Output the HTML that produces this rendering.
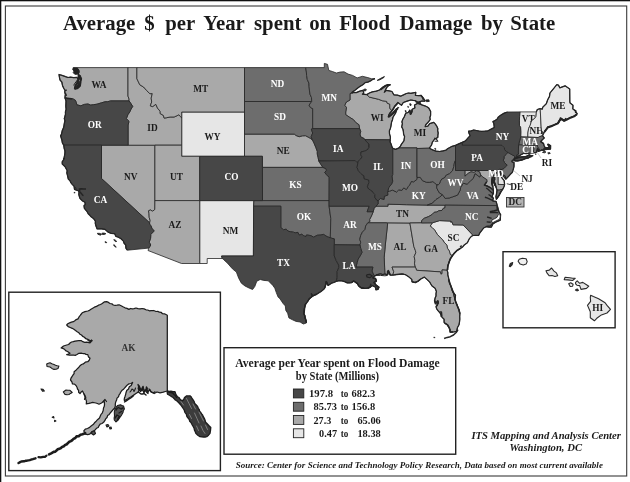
<!DOCTYPE html>
<html lang="en"><head><meta charset="utf-8"><title>Average $ per Year spent on Flood Damage by State</title>
<style>
html,body{margin:0;padding:0;background:#fff;}
body{width:630px;height:482px;overflow:hidden;}
svg{display:block;}
svg text{font-family:"Liberation Serif","Times New Roman",serif;}
</style></head><body>
<svg width="630" height="482" viewBox="0 0 630 482">
<rect x="0" y="0" width="630" height="482" fill="#fff"/>
<rect x="0" y="0" width="630" height="1.3" fill="#111"/>
<rect x="0" y="0" width="1.3" height="482" fill="#111"/>
<rect x="5.4" y="6" width="621.3" height="470" fill="none" stroke="#3a3a3a" stroke-width="1.1"/>
<g stroke="#242424" stroke-width="0.8" stroke-linejoin="round">
<path d="M181.7,117.7 L181.7,145.2 L181.7,156.3 L199.7,156.3 L244.5,156.3 L244.5,134.1 L244.5,112.0 L181.7,112.0Z" fill="#e6e6e6"/>
<path d="M199.7,200.6 L199.7,263.5 L207.2,263.5 L207.2,258.5 L222.3,258.5 L221.5,256.0 L253.4,256.0 L253.6,206.2 L253.9,200.6Z" fill="#e6e6e6"/>
<path d="M498.0,170.5 L499.7,169.2 L501.5,169.5 L499.9,171.8 L501.0,175.1 L501.9,177.9 L504.2,180.7 L504.6,184.6 L498.0,184.4Z" fill="#e6e6e6"/>
<path d="M473.2,235.5 L463.2,225.0 L453.0,224.8 L451.9,221.7 L450.8,222.2 L450.8,221.1 L439.6,220.6 L432.3,222.8 L430.2,226.1 L432.4,227.8 L434.6,230.0 L437.3,234.4 L440.5,237.8 L442.7,239.8 L444.1,242.2 L446.8,245.0 L447.5,248.3 L449.4,251.1 L450.2,254.4 L452.3,255.7 L454.4,253.3 L456.6,251.1 L458.6,249.6 L460.7,248.3 L462.7,246.9 L464.2,245.0 L467.4,242.7 L469.2,238.9 L471.4,236.3Z" fill="#e6e6e6"/>
<path d="M519.9,111.9 L519.6,116.4 L519.4,120.8 L519.4,125.3 L520.6,127.5 L520.8,131.9 L520.7,136.9 L527.8,137.1 L527.9,133.0 L528.6,128.6 L530.2,125.3 L531.5,120.8 L534.7,118.4 L536.0,116.4 L536.4,111.9Z" fill="#e6e6e6"/>
<path d="M527.8,137.1 L527.9,133.0 L528.6,128.6 L530.2,125.3 L531.5,120.8 L534.7,118.4 L536.0,116.4 L536.4,111.9 L537.3,109.5 L540.2,108.6 L541.2,127.8 L541.4,130.3 L543.6,133.4 L542.5,135.6 L539.1,136.9 L538.2,137.5Z" fill="#e6e6e6"/>
<path d="M543.6,133.4 L541.4,130.3 L541.2,127.8 L540.2,108.6 L542.3,109.2 L542.7,107.3 L546.3,103.7 L547.7,99.8 L549.5,96.4 L549.9,93.1 L556.8,84.7 L558.4,85.0 L559.8,87.8 L565.1,85.8 L569.7,89.0 L569.8,101.5 L570.1,103.1 L573.0,105.3 L572.8,108.9 L574.3,109.9 L576.8,113.1 L577.3,114.0 L574.1,116.2 L570.5,117.5 L566.9,119.2 L564.3,120.3 L560.7,118.1 L559.3,120.8 L558.0,123.0 L554.4,124.7 L551.2,126.2 L547.7,126.9 L546.8,129.1 L545.0,130.8Z" fill="#e6e6e6"/>
<path d="M76.7,67.6 L76.5,68.7 L78.6,70.2 L79.0,72.1 L78.0,74.1 L79.9,75.7 L80.4,77.8 L81.5,78.9 L80.1,81.5 L80.4,83.7 L79.7,86.5 L78.1,87.8 L75.4,88.9 L75.0,87.6 L77.1,86.5 L78.3,84.8 L78.0,82.0 L78.6,79.5 L76.8,77.4 L73.6,77.6 L70.5,77.2 L68.0,77.5 L65.6,76.7 L62.0,75.4 L59.0,74.5 L59.5,77.6 L60.0,80.0 L61.8,82.0 L62.6,85.9 L64.0,88.7 L65.1,90.6 L64.7,92.0 L65.4,94.2 L64.9,97.8 L67.8,98.7 L71.0,98.4 L73.2,99.0 L75.4,100.3 L76.3,102.5 L76.8,104.8 L80.8,105.8 L84.4,104.4 L88.0,104.0 L90.7,105.1 L93.4,104.7 L97.0,104.2 L101.5,102.8 L105.0,101.8 L107.7,101.7 L110.6,100.9 L129.1,100.9 L129.1,99.0 L128.0,96.1 L128.0,67.6Z" fill="#a9a9a9"/>
<path d="M149.6,222.8 L101.5,178.5 L101.5,145.2 L128.1,145.2 L154.9,145.2 L154.9,200.6 L154.8,209.5 L152.6,211.2 L150.3,210.0 L148.5,210.8 L149.0,213.4 L149.2,217.3 L150.2,220.6Z" fill="#a9a9a9"/>
<path d="M128.0,67.6 L128.0,96.1 L129.1,99.0 L129.1,100.9 L130.6,103.1 L132.7,106.4 L131.0,109.2 L129.7,112.0 L127.9,114.7 L126.4,118.6 L127.9,120.3 L129.0,121.4 L128.6,123.0 L128.1,125.0 L128.1,145.2 L154.9,145.2 L181.7,145.2 L181.7,117.7 L180.2,116.4 L178.8,114.7 L177.9,115.3 L174.1,117.0 L170.1,117.0 L166.2,117.8 L164.2,118.1 L163.3,115.3 L160.2,113.6 L160.2,111.4 L157.5,108.1 L155.8,104.3 L152.6,106.6 L150.3,105.8 L151.7,102.0 L151.2,98.1 L152.3,93.6 L149.9,93.7 L146.7,90.6 L143.6,87.0 L139.8,84.8 L136.9,78.7 L136.9,67.6Z" fill="#a9a9a9"/>
<path d="M136.9,67.6 L136.9,78.7 L139.8,84.8 L143.6,87.0 L146.7,90.6 L149.9,93.7 L152.3,93.6 L151.2,98.1 L151.7,102.0 L150.3,105.8 L152.6,106.6 L155.8,104.3 L157.5,108.1 L160.2,111.4 L160.2,113.6 L163.3,115.3 L164.2,118.1 L166.2,117.8 L170.1,117.0 L174.1,117.0 L177.9,115.3 L178.8,114.7 L180.2,116.4 L181.7,117.7 L181.7,112.0 L244.5,112.0 L244.5,101.5 L244.5,67.6Z" fill="#a9a9a9"/>
<path d="M154.9,145.2 L181.7,145.2 L181.7,156.3 L199.7,156.3 L199.7,200.6 L154.9,200.6Z" fill="#a9a9a9"/>
<path d="M148.8,248.1 L150.8,245.0 L149.2,242.2 L150.6,238.3 L150.8,234.4 L153.5,231.7 L154.1,230.6 L152.1,228.9 L151.0,225.9 L149.6,224.1 L149.6,222.8 L150.2,220.6 L149.2,217.3 L149.0,213.4 L148.5,210.8 L150.3,210.0 L152.6,211.2 L154.8,209.5 L154.9,200.6 L199.7,200.6 L199.7,263.5 L181.5,263.5 L148.0,250.5Z" fill="#a9a9a9"/>
<path d="M244.5,134.1 L294.3,134.1 L296.1,135.5 L299.2,136.7 L302.4,135.8 L305.5,135.7 L308.2,137.1 L310.4,138.3 L312.4,139.8 L314.0,143.0 L315.8,147.4 L317.3,151.3 L317.3,154.1 L318.1,157.4 L318.8,161.0 L320.7,164.1 L322.9,167.4 L262.4,167.4 L262.4,156.3 L244.5,156.3Z" fill="#a9a9a9"/>
<path d="M384.9,274.1 L384.6,267.1 L384.2,257.2 L385.3,245.0 L387.6,223.9 L386.7,222.8 L409.9,223.0 L413.8,246.4 L415.4,250.5 L415.8,252.7 L414.2,256.6 L414.9,260.5 L414.5,263.8 L415.4,267.1 L392.0,267.1 L393.7,271.6 L392.9,275.1 L390.4,275.2 L389.4,273.2 L388.5,270.5 L387.4,271.6 L387.6,274.7Z" fill="#a9a9a9"/>
<path d="M375.9,206.2 L374.1,208.4 L373.2,211.7 L371.4,216.1 L369.6,219.5 L369.9,221.4 L367.8,222.8 L386.7,222.8 L409.9,223.0 L421.5,222.9 L421.7,220.5 L424.2,218.3 L428.8,216.5 L432.4,214.3 L434.2,212.3 L436.9,212.0 L438.7,210.8 L442.0,210.4 L443.2,208.4 L445.0,207.8 L445.1,205.2 L427.2,205.1 L406.4,204.7 L387.8,204.2 L388.0,206.2Z" fill="#a9a9a9"/>
<path d="M351.7,93.1 L350.0,93.6 L350.0,100.0 L346.3,102.0 L344.7,105.3 L346.5,107.5 L345.7,112.0 L345.7,114.7 L349.9,117.5 L353.5,119.7 L355.7,122.5 L358.9,124.7 L359.6,128.6 L360.7,131.4 L360.0,134.1 L360.7,136.9 L364.2,138.6 L364.8,139.6 L390.3,139.8 L390.4,136.9 L389.5,133.8 L389.4,130.8 L390.4,128.4 L391.0,125.8 L391.6,121.9 L392.5,119.7 L392.9,117.5 L394.2,115.2 L395.6,113.1 L396.4,110.8 L397.4,108.6 L395.9,111.0 L393.8,112.9 L390.7,115.5 L388.3,117.0 L388.9,114.7 L390.2,112.7 L391.9,110.9 L389.8,108.1 L389.8,104.2 L387.1,103.1 L386.7,101.4 L382.2,100.7 L378.6,99.3 L369.4,97.1 L366.8,94.6 L362.4,94.2 L363.8,93.1 L362.9,90.4 L359.8,91.2 L356.2,92.6 L353.9,92.3Z" fill="#a9a9a9"/>
<path d="M366.8,94.6 L369.4,97.1 L378.6,99.3 L382.2,100.7 L386.7,101.4 L387.1,103.1 L389.8,104.2 L389.8,108.1 L391.9,110.9 L393.8,108.1 L394.9,105.9 L396.5,104.2 L397.9,102.5 L400.1,104.2 L401.5,105.3 L403.3,102.5 L406.4,101.4 L408.6,100.7 L410.9,100.0 L413.1,100.4 L415.4,100.7 L417.9,102.3 L421.6,101.1 L425.2,101.2 L423.4,98.1 L421.2,95.3 L419.0,95.7 L415.4,95.3 L415.8,92.3 L413.3,92.8 L410.9,93.3 L408.6,93.0 L406.4,93.5 L403.5,94.9 L400.6,96.2 L397.4,95.1 L393.8,94.8 L392.0,91.5 L389.4,90.9 L386.2,90.4 L384.4,92.2 L385.5,89.9 L386.7,87.6 L388.2,85.9 L390.3,84.8 L388.0,85.2 L385.8,85.4 L382.2,87.6 L379.5,90.0 L376.3,91.2 L372.3,91.8 L369.4,93.0Z M399.0,147.9 L400.4,146.1 L401.5,144.1 L403.9,140.8 L404.6,136.7 L403.6,134.2 L403.4,131.6 L402.9,129.2 L401.7,126.9 L402.4,123.6 L401.9,121.9 L402.8,119.3 L404.2,117.0 L405.8,113.1 L408.2,112.5 L409.8,110.0 L410.4,114.2 L411.3,113.6 L412.0,111.5 L412.2,109.2 L414.9,107.9 L414.5,105.1 L417.6,103.3 L420.1,104.2 L422.5,105.1 L424.8,105.8 L426.9,106.8 L428.8,108.1 L430.6,111.4 L430.6,115.3 L429.9,117.5 L430.2,119.7 L427.9,122.5 L425.7,124.7 L425.2,126.6 L427.9,126.2 L429.7,123.6 L433.8,122.3 L435.4,124.2 L436.9,126.4 L437.8,128.5 L437.7,130.8 L438.2,133.0 L437.9,135.2 L437.8,137.5 L434.6,139.1 L432.4,142.1 L431.5,145.2 L429.3,148.2 L417.0,148.5 L417.0,147.9Z" fill="#a9a9a9"/>
<path d="M464.9,170.5 L498.0,170.5 L498.0,184.4 L504.6,184.6 L504.2,186.2 L502.8,189.2 L499.2,190.1 L497.0,190.1 L496.1,187.3 L494.7,184.6 L493.4,181.8 L494.3,179.0 L494.7,175.1 L496.1,172.4 L495.2,174.0 L492.5,175.7 L492.0,178.5 L491.6,181.8 L492.5,185.7 L493.2,188.4 L493.4,190.1 L490.7,187.9 L487.1,186.0 L484.4,185.1 L486.9,181.8 L486.8,179.6 L484.9,178.5 L482.6,176.8 L480.6,174.9 L479.5,171.8 L476.5,170.7 L474.1,172.4 L471.0,171.8 L468.3,173.3 L464.9,176.2Z" fill="#a9a9a9"/>
<path d="M409.9,223.0 L421.5,222.9 L432.3,222.8 L430.2,226.1 L432.4,227.8 L434.6,230.0 L437.3,234.4 L440.5,237.8 L442.7,239.8 L444.1,242.2 L446.8,245.0 L447.5,248.3 L449.4,251.1 L450.2,254.4 L452.3,255.7 L450.2,258.8 L449.0,262.1 L447.7,266.0 L447.2,270.3 L442.1,269.9 L442.1,273.6 L440.9,274.2 L440.5,271.9 L416.6,270.3 L415.4,267.1 L414.5,263.8 L414.9,260.5 L414.2,256.6 L415.8,252.7 L415.4,250.5 L413.8,246.4Z" fill="#a9a9a9"/>
<path d="M392.9,275.1 L393.7,271.6 L392.0,267.1 L415.4,267.1 L416.6,270.3 L440.5,271.9 L440.9,274.2 L442.1,273.6 L442.1,269.9 L447.2,270.3 L447.8,272.6 L447.8,274.9 L448.6,277.9 L449.0,281.0 L449.6,283.5 L450.8,285.8 L451.7,288.2 L452.3,290.8 L453.5,293.2 L455.5,295.4 L455.0,298.7 L455.7,301.9 L457.1,304.8 L457.8,307.1 L458.9,309.2 L459.4,311.5 L459.9,313.7 L459.7,316.4 L459.8,319.2 L459.5,322.0 L459.0,324.8 L457.5,327.5 L456.6,331.4 L453.5,332.0 L450.3,332.2 L449.9,329.2 L448.6,326.9 L447.2,324.8 L444.1,322.5 L444.1,319.2 L441.8,317.0 L440.5,313.7 L438.2,310.9 L436.7,308.9 L436.0,306.5 L437.3,305.4 L438.2,301.5 L435.5,303.1 L434.6,300.4 L435.1,298.1 L436.0,295.9 L436.0,293.7 L436.4,291.5 L435.1,288.2 L432.0,286.0 L430.8,284.0 L429.7,282.1 L427.5,279.9 L424.3,277.1 L421.2,278.8 L418.1,281.0 L415.4,282.6 L412.0,281.8 L411.8,279.5 L409.1,277.1 L405.5,274.7 L401.9,274.0 L399.0,274.5 L396.1,274.6Z" fill="#a9a9a9"/>
<path d="M244.5,101.5 L244.5,67.6 L305.7,67.6 L306.4,72.1 L306.6,75.4 L307.3,79.5 L308.9,83.1 L309.1,86.5 L309.5,90.9 L310.0,94.2 L311.5,97.6 L311.7,101.5Z" fill="#6d6d6d"/>
<path d="M244.5,101.5 L311.7,101.5 L309.1,105.1 L310.4,107.5 L312.7,108.6 L312.7,128.6 L311.3,129.1 L312.7,133.0 L311.1,136.9 L312.4,139.8 L310.4,138.3 L308.2,137.1 L305.5,135.7 L302.4,135.8 L299.2,136.7 L296.1,135.5 L294.3,134.1 L244.5,134.1 L244.5,112.0Z" fill="#6d6d6d"/>
<path d="M262.4,167.4 L322.9,167.4 L325.7,168.5 L326.6,170.2 L324.8,172.4 L326.3,174.6 L329.2,177.2 L329.1,200.6 L262.5,200.6Z" fill="#6d6d6d"/>
<path d="M262.5,200.6 L329.1,200.6 L329.1,206.2 L330.8,218.5 L330.3,237.9 L327.0,236.6 L323.4,234.4 L320.7,235.0 L317.2,235.3 L313.6,237.2 L311.3,235.8 L309.1,235.3 L306.4,235.0 L305.9,236.6 L303.7,235.9 L301.9,234.1 L299.2,235.2 L297.9,232.4 L295.2,232.8 L293.4,232.2 L290.2,231.7 L288.0,231.1 L286.2,229.2 L283.5,229.7 L280.8,227.7 L280.8,206.2 L253.6,206.2 L253.9,200.6Z" fill="#6d6d6d"/>
<path d="M311.7,101.5 L311.5,97.6 L310.0,94.2 L309.5,90.9 L309.1,86.5 L308.9,83.1 L307.3,79.5 L306.6,75.4 L306.4,72.1 L305.7,67.6 L324.3,67.6 L324.3,63.4 L327.5,64.3 L328.8,70.4 L332.4,71.5 L336.4,73.0 L340.0,72.1 L344.1,71.8 L348.1,74.1 L352.6,75.4 L357.1,77.9 L362.4,76.3 L367.8,77.6 L371.4,78.7 L375.0,78.7 L372.6,79.5 L370.5,80.9 L367.9,82.1 L365.1,82.6 L363.5,84.2 L361.7,85.4 L359.8,86.5 L357.5,88.3 L355.3,90.0 L352.1,92.2 L351.7,93.1 L350.0,93.6 L350.0,100.0 L346.3,102.0 L344.7,105.3 L346.5,107.5 L345.7,112.0 L345.7,114.7 L349.9,117.5 L353.5,119.7 L355.7,122.5 L358.9,124.7 L359.6,128.6 L312.7,128.6 L312.7,108.6 L310.4,107.5 L309.1,105.1Z" fill="#6d6d6d"/>
<path d="M329.1,206.2 L369.2,206.2 L367.1,211.7 L373.2,211.7 L371.4,216.1 L369.6,219.5 L369.9,221.4 L367.8,222.8 L365.6,226.1 L365.1,229.4 L362.4,232.2 L360.7,235.5 L359.8,239.4 L360.7,242.2 L360.0,245.0 L334.3,244.7 L334.3,238.9 L330.3,237.9 L330.8,218.5Z" fill="#6d6d6d"/>
<path d="M367.8,222.8 L365.6,226.1 L365.1,229.4 L362.4,232.2 L360.7,235.5 L359.8,239.4 L360.7,242.2 L360.0,245.0 L360.7,248.3 L362.0,252.2 L360.7,254.9 L358.0,259.4 L357.1,262.7 L355.9,267.1 L372.9,267.1 L372.0,271.0 L373.2,273.8 L374.6,276.2 L376.3,274.9 L380.4,273.8 L382.6,274.5 L384.9,274.1 L384.6,267.1 L384.2,257.2 L385.3,245.0 L387.6,223.9 L386.7,222.8Z" fill="#6d6d6d"/>
<path d="M378.1,200.9 L378.1,204.0 L375.9,206.2 L388.0,206.2 L387.8,204.2 L406.4,204.7 L427.2,205.1 L432.0,203.4 L434.6,201.2 L436.0,199.5 L439.6,197.3 L442.5,194.6 L439.6,193.1 L437.8,190.1 L436.7,187.9 L436.9,184.9 L434.6,182.9 L432.9,181.6 L429.7,182.3 L426.6,182.3 L422.5,180.7 L420.3,177.4 L417.0,177.4 L416.7,179.6 L413.6,181.8 L411.3,181.5 L409.5,185.1 L408.2,186.6 L406.4,189.5 L403.7,187.9 L401.9,190.4 L398.8,189.8 L396.5,192.0 L392.5,190.1 L389.4,191.2 L387.6,191.8 L387.8,195.1 L384.4,196.2 L384.0,199.5 L380.4,198.4Z" fill="#6d6d6d"/>
<path d="M387.6,191.8 L388.9,187.3 L391.6,184.0 L392.7,181.2 L392.0,176.2 L392.7,174.6 L392.7,148.3 L395.6,149.3 L399.0,147.9 L417.0,147.9 L417.0,148.5 L417.0,177.4 L416.7,179.6 L413.6,181.8 L411.3,181.5 L409.5,185.1 L408.2,186.6 L406.4,189.5 L403.7,187.9 L401.9,190.4 L398.8,189.8 L396.5,192.0 L392.5,190.1 L389.4,191.2Z" fill="#6d6d6d"/>
<path d="M417.0,148.5 L417.0,177.4 L420.3,177.4 L422.5,180.7 L426.6,182.3 L429.7,182.3 L432.9,181.6 L434.6,182.9 L436.9,184.9 L438.2,184.9 L440.0,183.1 L440.5,181.2 L441.8,179.0 L444.5,177.9 L446.3,175.1 L449.4,173.8 L452.6,170.7 L453.8,166.6 L454.4,162.9 L455.5,160.3 L455.5,145.4 L452.1,146.3 L449.4,147.7 L447.5,148.7 L445.9,150.2 L443.2,150.8 L439.6,151.5 L436.0,151.1 L433.3,150.2 L431.3,149.2 L429.3,148.2Z" fill="#6d6d6d"/>
<path d="M501.5,169.5 L503.9,168.5 L505.5,166.6 L507.1,165.2 L504.6,162.7 L503.3,160.2 L504.2,158.0 L503.9,156.5 L506.0,154.6 L507.7,152.3 L514.9,156.3 L513.8,159.6 L512.2,160.5 L511.8,161.8 L514.0,162.4 L514.0,166.3 L513.1,170.2 L512.2,172.5 L510.4,174.3 L508.2,176.8 L505.8,179.2 L505.1,176.2 L502.4,174.6 L500.4,172.4 L500.1,170.9Z" fill="#6d6d6d"/>
<path d="M445.1,205.2 L497.3,205.6 L496.1,201.4 L493.8,201.2 L492.5,200.6 L493.4,198.4 L492.0,196.2 L493.4,193.4 L493.4,190.1 L490.7,187.9 L487.1,186.0 L484.4,185.1 L486.9,181.8 L486.8,179.6 L484.9,178.5 L482.6,176.8 L480.6,174.9 L479.7,177.0 L475.0,173.5 L473.2,178.5 L470.3,181.0 L467.1,184.2 L463.3,183.2 L460.7,187.3 L460.2,190.1 L457.5,195.1 L452.5,196.9 L449.2,198.0 L445.1,198.4 L442.5,194.6 L439.6,197.3 L436.0,199.5 L434.6,201.2 L432.0,203.4 L427.2,205.1Z M502.8,189.2 L501.0,191.8 L499.2,195.1 L497.4,197.9 L496.4,199.3 L495.9,196.7 L496.5,194.0 L497.0,190.1 L499.2,190.1Z" fill="#6d6d6d"/>
<path d="M455.5,160.3 L454.4,162.9 L453.8,166.6 L452.6,170.7 L449.4,173.8 L446.3,175.1 L444.5,177.9 L441.8,179.0 L440.5,181.2 L440.0,183.1 L438.2,184.9 L436.9,184.9 L436.7,187.9 L437.8,190.1 L439.6,193.1 L442.5,194.6 L445.1,198.4 L449.2,198.0 L452.5,196.9 L457.5,195.1 L460.2,190.1 L460.7,187.3 L463.3,183.2 L467.1,184.2 L470.3,181.0 L473.2,178.5 L475.0,173.5 L479.7,177.0 L480.6,174.9 L479.5,171.8 L476.5,170.7 L474.1,172.4 L471.0,171.8 L468.3,173.3 L464.9,176.2 L464.9,170.5 L455.5,170.5Z" fill="#6d6d6d"/>
<path d="M445.1,205.2 L497.3,205.6 L498.3,209.5 L499.1,212.2 L500.6,214.5 L500.4,217.4 L500.3,220.2 L498.2,221.1 L496.1,222.0 L492.9,223.9 L491.3,227.2 L488.8,227.1 L486.2,226.7 L484.1,227.7 L482.6,229.4 L479.9,232.8 L478.6,235.5 L475.9,235.4 L473.2,235.5 L463.2,225.0 L453.0,224.8 L451.9,221.7 L450.8,222.2 L450.8,221.1 L439.6,220.6 L432.3,222.8 L421.5,222.9 L421.7,220.5 L424.2,218.3 L428.8,216.5 L432.4,214.3 L434.2,212.3 L436.9,212.0 L438.7,210.8 L442.0,210.4 L443.2,208.4 L445.0,207.8Z" fill="#6d6d6d"/>
<path d="M518.6,144.7 L518.3,153.0 L518.7,154.0 L516.4,155.2 L517.1,156.4 L519.3,155.9 L521.2,154.6 L523.9,153.3 L526.1,153.6 L528.4,153.3 L531.1,153.0 L533.2,152.8 L533.8,149.6 L533.8,145.0Z" fill="#6d6d6d"/>
<path d="M533.8,145.0 L533.8,149.6 L533.2,152.8 L536.4,152.3 L537.3,149.6 L538.2,151.3 L539.9,150.8 L539.1,148.9 L537.5,146.3 L537.5,145.0Z" fill="#6d6d6d"/>
<path d="M520.7,136.9 L518.6,144.7 L533.8,145.0 L537.5,145.0 L537.5,146.3 L539.1,148.9 L539.9,150.8 L541.4,150.2 L544.1,150.2 L545.0,149.6 L547.2,149.3 L550.3,148.9 L550.3,145.8 L548.1,144.4 L549.2,146.3 L549.9,147.7 L547.7,147.6 L545.4,147.8 L544.1,145.8 L543.6,143.6 L540.9,141.9 L541.8,140.2 L544.3,138.0 L542.5,135.6 L539.1,136.9 L538.2,137.5 L527.8,137.1Z" fill="#6d6d6d"/>
<path d="M64.9,97.8 L66.0,100.9 L65.9,103.7 L65.8,106.4 L66.1,109.2 L65.4,112.0 L65.5,114.2 L64.9,116.4 L64.3,118.6 L64.9,120.9 L64.4,123.0 L64.0,125.3 L63.6,127.5 L62.2,130.8 L61.5,134.1 L60.6,135.9 L61.8,139.7 L62.4,143.0 L63.7,145.2 L101.5,145.2 L128.1,145.2 L128.1,125.0 L128.6,123.0 L129.0,121.4 L127.9,120.3 L126.4,118.6 L127.9,114.7 L129.7,112.0 L131.0,109.2 L132.7,106.4 L130.6,103.1 L129.1,100.9 L110.6,100.9 L107.7,101.7 L105.0,101.8 L101.5,102.8 L97.0,104.2 L93.4,104.7 L90.7,105.1 L88.0,104.0 L84.4,104.4 L80.8,105.8 L76.8,104.8 L76.3,102.5 L75.4,100.3 L73.2,99.0 L71.0,98.4 L67.8,98.7Z" fill="#474747"/>
<path d="M63.7,145.2 L64.2,148.5 L64.9,150.7 L64.9,153.0 L64.6,155.2 L64.2,157.4 L63.5,159.8 L62.2,161.8 L62.3,164.1 L65.1,166.8 L67.2,170.7 L66.8,172.9 L67.4,175.1 L68.3,179.0 L70.0,180.7 L71.0,182.9 L72.4,184.6 L74.1,186.2 L74.5,189.5 L78.1,190.7 L79.0,191.8 L78.8,194.5 L79.9,198.4 L82.6,201.0 L84.9,202.3 L85.3,204.5 L84.0,205.6 L84.4,208.4 L87.1,211.7 L88.2,213.7 L89.8,215.3 L91.4,217.1 L93.4,218.4 L95.4,221.1 L95.3,223.4 L95.8,225.6 L97.1,228.9 L101.5,228.9 L105.0,229.4 L108.2,232.2 L111.3,233.5 L114.7,233.7 L115.8,236.3 L117.8,237.0 L120.7,238.5 L123.4,241.1 L124.1,243.3 L125.7,245.0 L125.9,248.1 L127.3,250.2 L148.8,248.1 L150.8,245.0 L149.2,242.2 L150.6,238.3 L150.8,234.4 L153.5,231.7 L154.1,230.6 L152.1,228.9 L151.0,225.9 L149.6,224.1 L149.6,222.8 L101.5,178.5 L101.5,145.2Z" fill="#474747"/>
<path d="M199.7,200.6 L199.7,156.3 L244.5,156.3 L262.4,156.3 L262.4,167.4 L262.5,200.6 L253.9,200.6Z" fill="#474747"/>
<path d="M222.3,258.5 L221.5,256.0 L253.4,256.0 L253.6,206.2 L280.8,206.2 L280.8,227.7 L283.5,229.7 L286.2,229.2 L288.0,231.1 L290.2,231.7 L293.4,232.2 L295.2,232.8 L297.9,232.4 L299.2,235.2 L301.9,234.1 L303.7,235.9 L305.9,236.6 L306.4,235.0 L309.1,235.3 L311.3,235.8 L313.6,237.2 L317.2,235.3 L320.7,235.0 L323.4,234.4 L327.0,236.6 L330.3,237.9 L334.3,238.9 L334.3,244.7 L334.3,256.0 L336.2,260.5 L338.7,265.1 L338.7,267.7 L337.2,271.6 L337.2,274.9 L337.2,277.7 L336.1,281.5 L333.8,282.5 L331.5,283.2 L328.2,285.4 L326.1,281.5 L325.7,284.9 L324.3,288.7 L322.6,290.3 L320.7,291.7 L318.7,292.9 L316.7,294.3 L312.7,295.9 L309.5,298.7 L307.3,302.0 L305.0,304.8 L304.7,307.0 L304.3,309.2 L304.0,311.5 L303.7,313.7 L304.9,315.7 L305.0,318.1 L306.1,320.4 L306.4,323.0 L303.3,324.0 L300.1,322.0 L296.1,321.4 L292.5,319.8 L288.9,317.9 L287.6,313.1 L285.8,310.4 L285.3,305.9 L283.1,303.5 L279.9,298.7 L278.1,297.1 L276.3,292.6 L274.8,288.2 L272.8,285.4 L268.3,280.8 L263.8,280.4 L260.2,279.5 L256.8,281.2 L254.8,286.5 L252.6,289.5 L249.4,288.2 L245.0,286.0 L241.4,283.2 L238.7,278.2 L236.4,272.1 L232.4,268.8 L227.5,263.2 L223.4,259.4Z" fill="#474747"/>
<path d="M312.7,128.6 L359.6,128.6 L360.7,131.4 L360.0,134.1 L360.7,136.9 L364.2,138.6 L364.8,139.6 L366.8,141.9 L369.0,144.1 L369.0,147.4 L367.4,149.9 L364.7,151.1 L361.1,151.9 L360.7,154.6 L362.0,156.9 L360.7,159.1 L358.0,161.3 L357.8,163.2 L355.0,160.6 L318.8,161.0 L318.1,157.4 L317.3,154.1 L317.3,151.3 L315.8,147.4 L314.0,143.0 L312.4,139.8 L311.1,136.9 L312.7,133.0 L311.3,129.1Z" fill="#474747"/>
<path d="M357.8,163.2 L355.0,160.6 L318.8,161.0 L320.7,164.1 L322.9,167.4 L325.7,168.5 L326.6,170.2 L324.8,172.4 L326.3,174.6 L329.2,177.2 L329.1,200.6 L329.1,206.2 L369.2,206.2 L367.1,211.7 L373.2,211.7 L374.1,208.4 L375.9,206.2 L378.1,204.0 L378.1,200.9 L376.8,200.1 L374.8,197.5 L374.8,194.5 L371.9,190.9 L368.7,189.0 L367.4,186.8 L368.9,182.6 L368.7,179.9 L364.4,179.0 L363.8,175.7 L360.7,173.5 L358.1,170.2 L357.1,167.4Z" fill="#474747"/>
<path d="M334.3,244.7 L360.0,245.0 L360.7,248.3 L362.0,252.2 L360.7,254.9 L358.0,259.4 L357.1,262.7 L355.9,267.1 L372.9,267.1 L372.0,271.0 L373.2,273.8 L374.6,276.2 L372.8,277.7 L375.5,278.4 L376.3,281.0 L374.1,282.4 L375.9,284.9 L379.0,287.1 L378.1,289.3 L375.9,289.8 L375.5,287.1 L372.3,285.6 L370.5,287.1 L368.3,288.2 L364.7,288.4 L361.6,288.2 L358.9,286.2 L357.5,283.8 L355.7,282.4 L353.9,281.0 L351.7,282.6 L349.5,282.9 L347.2,282.9 L344.6,281.6 L341.8,280.8 L338.9,280.7 L336.1,281.5 L337.2,277.7 L337.2,274.9 L337.2,271.6 L338.7,267.7 L338.7,265.1 L336.2,260.5 L334.3,256.0Z" fill="#474747"/>
<path d="M364.8,139.6 L366.8,141.9 L369.0,144.1 L369.0,147.4 L367.4,149.9 L364.7,151.1 L361.1,151.9 L360.7,154.6 L362.0,156.9 L360.7,159.1 L358.0,161.3 L357.8,163.2 L357.1,167.4 L358.1,170.2 L360.7,173.5 L363.8,175.7 L364.4,179.0 L368.7,179.9 L368.9,182.6 L367.4,186.8 L368.7,189.0 L371.9,190.9 L374.8,194.5 L374.8,197.5 L376.8,200.1 L378.1,200.9 L380.4,198.4 L384.0,199.5 L384.4,196.2 L387.8,195.1 L387.6,191.8 L388.9,187.3 L391.6,184.0 L392.7,181.2 L392.0,176.2 L392.7,174.6 L392.7,148.3 L392.0,146.9 L391.1,144.1 L390.1,141.9 L390.3,139.8Z" fill="#474747"/>
<path d="M455.5,145.4 L455.5,160.3 L455.5,170.5 L464.9,170.5 L498.0,170.5 L499.7,169.2 L501.5,169.5 L503.9,168.5 L505.5,166.6 L507.1,165.2 L504.6,162.7 L503.3,160.2 L504.2,158.0 L503.9,156.5 L506.0,154.6 L507.7,152.3 L506.4,151.5 L504.6,149.6 L504.4,147.7 L501.9,145.2 L462.4,145.2 L462.4,142.2 L459.3,143.6Z" fill="#474747"/>
<path d="M462.4,142.2 L464.7,141.3 L466.5,139.7 L468.2,137.6 L470.1,135.8 L468.9,133.0 L468.6,131.2 L471.2,130.9 L473.7,130.0 L476.4,130.5 L479.0,131.0 L481.7,131.4 L484.9,131.2 L488.0,130.8 L491.6,128.9 L494.3,127.5 L493.8,123.6 L492.9,121.6 L495.0,120.5 L497.0,119.2 L498.4,116.9 L500.6,115.3 L504.2,113.1 L507.6,112.0 L519.9,111.9 L519.6,116.4 L519.4,120.8 L519.4,125.3 L520.6,127.5 L520.8,131.9 L520.7,136.9 L518.6,144.7 L518.3,153.0 L518.7,154.0 L516.4,155.2 L517.1,156.4 L515.8,158.0 L514.5,158.7 L513.8,159.6 L514.9,156.3 L507.7,152.3 L506.4,151.5 L504.6,149.6 L504.4,147.7 L501.9,145.2 L462.4,145.2Z M513.8,160.7 L517.6,161.0 L520.3,160.3 L523.0,159.6 L525.5,158.3 L528.4,158.0 L530.4,156.4 L532.9,155.7 L530.2,156.3 L529.3,154.9 L526.1,156.5 L522.1,156.9 L518.5,157.2 L516.3,158.2 L514.5,159.1Z" fill="#474747"/>
</g>
<g stroke="#242424" stroke-width="1.25" fill="none" stroke-linejoin="round">
<path d="M76.7,67.6 L76.5,68.7 L78.6,70.2 L79.0,72.1 L78.0,74.1 L79.9,75.7 L80.4,77.8 L81.5,78.9 L80.1,81.5 L80.4,83.7 L79.7,86.5 L78.1,87.8 L75.4,88.9 L75.0,87.6 L77.1,86.5 L78.3,84.8 L78.0,82.0 L78.6,79.5 L76.8,77.4 L73.6,77.6 L70.5,77.2 L68.0,77.5 L65.6,76.7 L62.0,75.4 L59.0,74.5 L59.5,77.6 L60.0,80.0 L61.8,82.0 L62.6,85.9 L64.0,88.7 L65.1,90.6 L64.7,92.0 L65.4,94.2 L64.9,97.8"/>
<path d="M64.9,97.8 L66.0,100.9 L65.9,103.7 L65.8,106.4 L66.1,109.2 L65.4,112.0 L65.5,114.2 L64.9,116.4 L64.3,118.6 L64.9,120.9 L64.4,123.0 L64.0,125.3 L63.6,127.5 L62.2,130.8 L61.5,134.1 L60.6,135.9 L61.8,139.7 L62.4,143.0 L63.7,145.2"/>
<path d="M63.7,145.2 L64.2,148.5 L64.9,150.7 L64.9,153.0 L64.6,155.2 L64.2,157.4 L63.5,159.8 L62.2,161.8 L62.3,164.1 L65.1,166.8 L67.2,170.7 L66.8,172.9 L67.4,175.1 L68.3,179.0 L70.0,180.7 L71.0,182.9 L72.4,184.6 L74.1,186.2 L74.5,189.5 L78.1,190.7 L79.0,191.8 L78.8,194.5 L79.9,198.4 L82.6,201.0 L84.9,202.3 L85.3,204.5 L84.0,205.6 L84.4,208.4 L87.1,211.7 L88.2,213.7 L89.8,215.3 L91.4,217.1 L93.4,218.4 L95.4,221.1 L95.3,223.4 L95.8,225.6 L97.1,228.9 L101.5,228.9 L105.0,229.4 L108.2,232.2 L111.3,233.5 L114.7,233.7 L115.8,236.3 L117.8,237.0 L120.7,238.5 L123.4,241.1 L124.1,243.3 L125.7,245.0 L125.9,248.1 L127.3,250.2"/>
<path d="M336.1,281.5 L333.8,282.5 L331.5,283.2 L328.2,285.4 L326.1,281.5 L325.7,284.9 L324.3,288.7 L322.6,290.3 L320.7,291.7 L318.7,292.9 L316.7,294.3 L312.7,295.9 L309.5,298.7 L307.3,302.0 L305.0,304.8 L304.7,307.0 L304.3,309.2 L304.0,311.5 L303.7,313.7 L304.9,315.7 L305.0,318.1 L306.1,320.4 L306.4,323.0"/>
<path d="M375.0,78.7 L372.6,79.5 L370.5,80.9 L367.9,82.1 L365.1,82.6 L363.5,84.2 L361.7,85.4 L359.8,86.5 L357.5,88.3 L355.3,90.0 L352.1,92.2 L351.7,93.1"/>
<path d="M374.6,276.2 L372.8,277.7 L375.5,278.4 L376.3,281.0 L374.1,282.4 L375.9,284.9 L379.0,287.1 L378.1,289.3 L375.9,289.8 L375.5,287.1 L372.3,285.6 L370.5,287.1 L368.3,288.2 L364.7,288.4 L361.6,288.2 L358.9,286.2 L357.5,283.8 L355.7,282.4 L353.9,281.0 L351.7,282.6 L349.5,282.9 L347.2,282.9 L344.6,281.6 L341.8,280.8 L338.9,280.7 L336.1,281.5"/>
<path d="M374.6,276.2 L376.3,274.9 L380.4,273.8 L382.6,274.5 L384.9,274.1"/>
<path d="M384.9,274.1 L387.6,274.7 L387.4,271.6 L388.5,270.5 L389.4,273.2 L390.4,275.2 L392.9,275.1"/>
<path d="M392.7,148.3 L392.0,146.9 L391.1,144.1 L390.1,141.9 L390.3,139.8"/>
<path d="M351.7,93.1 L353.9,92.3 L356.2,92.6 L359.8,91.2 L362.9,90.4 L363.8,93.1 L362.4,94.2 L366.8,94.6"/>
<path d="M391.9,110.9 L390.2,112.7 L388.9,114.7 L388.3,117.0 L390.7,115.5 L393.8,112.9 L395.9,111.0 L397.4,108.6 L396.4,110.8 L395.6,113.1 L394.2,115.2 L392.9,117.5 L392.5,119.7 L391.6,121.9 L391.0,125.8 L390.4,128.4 L389.4,130.8 L389.5,133.8 L390.4,136.9 L390.3,139.8"/>
<path d="M392.7,148.3 L395.6,149.3 L399.0,147.9"/>
<path d="M429.3,148.2 L431.3,149.2 L433.3,150.2 L436.0,151.1 L439.6,151.5 L443.2,150.8 L445.9,150.2 L447.5,148.7 L449.4,147.7 L452.1,146.3 L455.5,145.4"/>
<path d="M391.9,110.9 L393.8,108.1 L394.9,105.9 L396.5,104.2 L397.9,102.5 L400.1,104.2 L401.5,105.3 L403.3,102.5 L406.4,101.4 L408.6,100.7 L410.9,100.0 L413.1,100.4 L415.4,100.7 L417.9,102.3 L421.6,101.1 L425.2,101.2"/>
<path d="M425.2,101.2 L423.4,98.1 L421.2,95.3 L419.0,95.7 L415.4,95.3 L415.8,92.3 L413.3,92.8 L410.9,93.3 L408.6,93.0 L406.4,93.5 L403.5,94.9 L400.6,96.2 L397.4,95.1 L393.8,94.8 L392.0,91.5 L389.4,90.9 L386.2,90.4 L384.4,92.2 L385.5,89.9 L386.7,87.6 L388.2,85.9 L390.3,84.8 L388.0,85.2 L385.8,85.4 L382.2,87.6 L379.5,90.0 L376.3,91.2 L372.3,91.8 L369.4,93.0 L366.8,94.6"/>
<path d="M399.0,147.9 L400.4,146.1 L401.5,144.1 L403.9,140.8 L404.6,136.7 L403.6,134.2 L403.4,131.6 L402.9,129.2 L401.7,126.9 L402.4,123.6 L401.9,121.9 L402.8,119.3 L404.2,117.0 L405.8,113.1 L408.2,112.5 L409.8,110.0 L410.4,114.2 L411.3,113.6 L412.0,111.5 L412.2,109.2 L414.9,107.9 L414.5,105.1 L417.6,103.3 L420.1,104.2 L422.5,105.1 L424.8,105.8 L426.9,106.8 L428.8,108.1 L430.6,111.4 L430.6,115.3 L429.9,117.5 L430.2,119.7 L427.9,122.5 L425.7,124.7 L425.2,126.6 L427.9,126.2 L429.7,123.6 L433.8,122.3 L435.4,124.2 L436.9,126.4 L437.8,128.5 L437.7,130.8 L438.2,133.0 L437.9,135.2 L437.8,137.5 L434.6,139.1 L432.4,142.1 L431.5,145.2 L429.3,148.2"/>
<path d="M455.5,145.4 L459.3,143.6 L462.4,142.2"/>
<path d="M462.4,142.2 L464.7,141.3 L466.5,139.7 L468.2,137.6 L470.1,135.8 L468.9,133.0 L468.6,131.2 L471.2,130.9 L473.7,130.0 L476.4,130.5 L479.0,131.0 L481.7,131.4 L484.9,131.2 L488.0,130.8 L491.6,128.9 L494.3,127.5 L493.8,123.6 L492.9,121.6 L495.0,120.5 L497.0,119.2 L498.4,116.9 L500.6,115.3 L504.2,113.1 L507.6,112.0"/>
<path d="M517.1,156.4 L515.8,158.0 L514.5,158.7 L513.8,159.6"/>
<path d="M513.8,160.7 L517.6,161.0 L520.3,160.3 L523.0,159.6 L525.5,158.3 L528.4,158.0 L530.4,156.4 L532.9,155.7 L530.2,156.3 L529.3,154.9 L526.1,156.5 L522.1,156.9 L518.5,157.2 L516.3,158.2 L514.5,159.1 L513.8,160.7"/>
<path d="M513.8,159.6 L512.2,160.5 L511.8,161.8"/>
<path d="M511.8,161.8 L514.0,162.4 L514.0,166.3 L513.1,170.2 L512.2,172.5 L510.4,174.3 L508.2,176.8 L505.8,179.2 L505.1,176.2 L502.4,174.6 L500.4,172.4 L500.1,170.9 L501.5,169.5"/>
<path d="M501.5,169.5 L499.9,171.8 L501.0,175.1 L501.9,177.9 L504.2,180.7 L504.6,184.6"/>
<path d="M502.8,189.2 L504.2,186.2 L504.6,184.6"/>
<path d="M496.1,172.4 L494.7,175.1 L494.3,179.0 L493.4,181.8 L494.7,184.6 L496.1,187.3 L497.0,190.1"/>
<path d="M493.4,190.1 L493.2,188.4 L492.5,185.7 L491.6,181.8 L492.0,178.5 L492.5,175.7 L495.2,174.0 L496.1,172.4"/>
<path d="M493.4,190.1 L493.4,193.4 L492.0,196.2 L493.4,198.4 L492.5,200.6 L493.8,201.2 L496.1,201.4 L497.3,205.6"/>
<path d="M502.8,189.2 L501.0,191.8 L499.2,195.1 L497.4,197.9 L496.4,199.3 L495.9,196.7 L496.5,194.0 L497.0,190.1"/>
<path d="M497.3,205.6 L498.3,209.5 L499.1,212.2 L500.6,214.5 L500.4,217.4 L500.3,220.2 L498.2,221.1 L496.1,222.0 L492.9,223.9 L491.3,227.2 L488.8,227.1 L486.2,226.7 L484.1,227.7 L482.6,229.4 L479.9,232.8 L478.6,235.5 L475.9,235.4 L473.2,235.5"/>
<path d="M452.3,255.7 L454.4,253.3 L456.6,251.1 L458.6,249.6 L460.7,248.3 L462.7,246.9 L464.2,245.0 L467.4,242.7 L469.2,238.9 L471.4,236.3 L473.2,235.5"/>
<path d="M447.2,270.3 L447.7,266.0 L449.0,262.1 L450.2,258.8 L452.3,255.7"/>
<path d="M392.9,275.1 L396.1,274.6 L399.0,274.5 L401.9,274.0 L405.5,274.7 L409.1,277.1 L411.8,279.5 L412.0,281.8 L415.4,282.6 L418.1,281.0 L421.2,278.8 L424.3,277.1 L427.5,279.9 L429.7,282.1 L430.8,284.0 L432.0,286.0 L435.1,288.2 L436.4,291.5 L436.0,293.7 L436.0,295.9 L435.1,298.1 L434.6,300.4 L435.5,303.1 L438.2,301.5 L437.3,305.4 L436.0,306.5 L436.7,308.9 L438.2,310.9 L440.5,313.7 L441.8,317.0 L444.1,319.2 L444.1,322.5 L447.2,324.8 L448.6,326.9 L449.9,329.2 L450.3,332.2 L453.5,332.0 L456.6,331.4 L457.5,327.5 L459.0,324.8 L459.5,322.0 L459.8,319.2 L459.7,316.4 L459.9,313.7 L459.4,311.5 L458.9,309.2 L457.8,307.1 L457.1,304.8 L455.7,301.9 L455.0,298.7 L455.5,295.4 L453.5,293.2 L452.3,290.8 L451.7,288.2 L450.8,285.8 L449.6,283.5 L449.0,281.0 L448.6,277.9 L447.8,274.9 L447.8,272.6 L447.2,270.3"/>
<path d="M517.1,156.4 L519.3,155.9 L521.2,154.6 L523.9,153.3 L526.1,153.6 L528.4,153.3 L531.1,153.0 L533.2,152.8"/>
<path d="M533.2,152.8 L536.4,152.3 L537.3,149.6 L538.2,151.3 L539.9,150.8"/>
<path d="M539.9,150.8 L541.4,150.2 L544.1,150.2 L545.0,149.6 L547.2,149.3 L550.3,148.9 L550.3,145.8 L548.1,144.4 L549.2,146.3 L549.9,147.7 L547.7,147.6 L545.4,147.8 L544.1,145.8 L543.6,143.6 L540.9,141.9 L541.8,140.2 L544.3,138.0 L542.5,135.6"/>
<path d="M542.5,135.6 L543.6,133.4"/>
<path d="M577.3,114.0 L574.1,116.2 L570.5,117.5 L566.9,119.2 L564.3,120.3 L560.7,118.1 L559.3,120.8 L558.0,123.0 L554.4,124.7 L551.2,126.2 L547.7,126.9 L546.8,129.1 L545.0,130.8 L543.6,133.4"/>
<path d="M540.2,108.6 L542.3,109.2 L542.7,107.3 L546.3,103.7 L547.7,99.8 L549.5,96.4 L549.9,93.1 L556.8,84.7 L558.4,85.0 L559.8,87.8 L565.1,85.8 L569.7,89.0 L569.8,101.5 L570.1,103.1 L573.0,105.3 L572.8,108.9 L574.3,109.9 L576.8,113.1 L577.3,114.0"/>
<path d="M536.4,111.9 L537.3,109.5 L540.2,108.6"/>
</g>
<g stroke="#242424" stroke-width="0.9" fill="#fff" stroke-linejoin="round">
<path d="M499.5,213.4 L500.3,216.1 L499.7,219.2 L496.1,220.9 L492.9,222.6 L491.6,221.9 L492.0,219.8 L494.7,218.7 L497.0,217.3 L498.3,214.5Z"/>
</g>
<g stroke="#242424" stroke-width="0.9" stroke-linejoin="round">
<path d="M73.2,67.6 L75.9,67.6 L78.1,68.7 L79.0,71.0 L78.1,73.2 L76.3,74.5 L74.5,74.1 L73.2,72.6 L74.1,71.0 L72.7,69.8Z" fill="#222"/>
<path d="M97.4,233.3 L99.7,233.4 L101.5,234.2 L100.6,235.2 L97.9,234.3Z" fill="#222"/>
<path d="M101.9,233.2 L104.1,233.1 L105.9,233.7 L104.1,234.5 L102.3,234.4Z" fill="#222"/>
<path d="M113.8,239.6 L115.4,240.2 L116.7,241.4 L115.8,241.7 L114.3,240.6Z" fill="#222"/>
<path d="M113.8,244.6 L114.9,245.5 L116.2,247.2 L115.4,247.1 L113.8,245.3Z" fill="#222"/>
<path d="M105.0,241.7 L106.4,242.1 L106.7,242.7 L105.3,242.6Z" fill="#222"/>
<path d="M74.1,192.3 L75.0,192.6 L74.5,193.2Z" fill="#222"/>
<path d="M542.5,152.4 L544.5,151.1 L545.9,152.1 L544.5,152.8Z" fill="#222"/>
<path d="M547.7,153.0 L549.5,152.5 L550.3,153.3 L548.6,153.9Z" fill="#222"/>
<path d="M535.4,154.1 L536.0,153.7 L536.0,154.6Z" fill="#222"/>
<path d="M377.2,80.4 L380.4,78.5 L384.4,76.5 L384.0,77.4 L379.9,79.8Z" fill="#222"/>
<path d="M363.3,89.8 L365.1,88.9 L366.5,89.8 L365.1,91.1 L363.8,90.7Z" fill="#222"/>
<path d="M409.8,103.7 L411.1,104.0 L410.9,105.6 L410.0,105.3Z" fill="#222"/>
<path d="M405.1,110.6 L406.2,110.9 L405.7,112.2Z" fill="#222"/>
<path d="M407.7,106.4 L408.6,106.8 L408.2,107.5Z" fill="#222"/>
<path d="M419.0,102.9 L420.9,103.1 L420.6,103.9Z" fill="#222"/>
<path d="M425.7,100.0 L428.8,99.8 L429.3,101.4 L426.6,101.7Z" fill="#222"/>
<path d="M397.6,107.3 L398.8,107.5 L398.3,108.3Z" fill="#222"/>
<path d="M433.8,337.2 L434.9,337.4 L434.4,338.1Z" fill="#222"/>
</g>
<g stroke="#242424" stroke-width="1.1" fill="none" stroke-linejoin="round">
<path d="M79.5,75.4 L80.8,78.2 L80.4,82.0 L79.9,85.4 L77.2,88.1 L75.0,88.5 L75.4,85.9 L77.2,83.1 L78.1,79.8 L78.6,77.1 L79.5,75.4" stroke-width="2.2"/>
<path d="M77.2,87.0 L78.6,84.8 L79.0,82.0" stroke-width="1.4"/>
<path d="M78.1,73.7 L78.6,76.5 L79.9,79.3" stroke-width="1.6"/>
<path d="M77.7,79.8 L75.0,83.1 L73.6,85.4" stroke-width="1.0"/>
<path d="M78.8,191.5 L79.7,190.4 L79.3,188.9 L81.3,188.7 L83.5,189.0 L86.0,189.0" stroke-width="1.5"/>
<path d="M79.9,191.8 L81.3,193.4 L82.6,195.1 L83.5,195.6" stroke-width="1.5"/>
<path d="M75.0,189.5 L76.3,188.4 L75.0,187.3" stroke-width="1.0"/>
<path d="M380.4,89.8 L384.0,87.0 L387.6,84.8 L390.3,84.8" stroke-width="1.6"/>
<path d="M388.5,117.0 L390.7,115.1 L393.4,112.5 L396.5,109.2 L397.9,108.4" stroke-width="2.0"/>
<path d="M389.4,114.2 L392.0,110.9 L394.7,106.4 L397.4,103.7" stroke-width="1.4"/>
<path d="M415.4,101.4 L417.9,102.8 L420.7,102.0" stroke-width="1.4"/>
<path d="M423.4,100.3 L422.5,97.6 L420.7,95.3" stroke-width="1.3"/>
<path d="M410.0,110.3 L410.4,114.2 L411.3,113.6 L412.0,109.7" stroke-width="1.3"/>
<path d="M544.5,131.9 L547.7,127.5 L551.2,126.2 L554.4,124.9 L558.0,123.3 L559.3,120.8 L561.1,119.2 L564.3,120.8 L566.9,119.7 L570.5,117.7 L574.1,116.4 L577.0,114.2" stroke-width="2.0"/>
<path d="M558.9,122.5 L560.2,119.2 L560.7,117.5" stroke-width="1.6"/>
<path d="M563.4,121.4 L565.1,119.7 L566.0,118.1" stroke-width="1.6"/>
<path d="M575.5,113.1 L575.9,110.9 L574.1,110.0" stroke-width="1.4"/>
<path d="M544.3,148.0 L547.2,148.8 L550.2,148.8 L550.3,145.8 L548.1,144.5 L549.0,146.1 L549.7,147.4" stroke-width="2.0"/>
<path d="M541.4,150.2 L543.6,149.9 L544.3,148.0" stroke-width="1.5"/>
<path d="M537.2,151.3 L537.5,148.5 L538.2,150.8 L539.1,149.1" stroke-width="1.5"/>
<path d="M541.8,140.2 L540.8,141.7 L543.2,142.8" stroke-width="1.4"/>
<path d="M516.3,158.0 L521.2,157.1 L526.6,156.5 L529.3,155.0 L532.0,156.1" stroke-width="1.4"/>
<path d="M514.9,160.7 L520.3,160.4 L525.7,158.7 L532.0,156.3" stroke-width="1.4"/>
<path d="M500.1,171.6 L501.0,174.6 L503.3,176.2 L505.5,179.0" stroke-width="1.2"/>
<path d="M496.1,172.4 L494.3,175.7 L492.5,179.0 L492.0,183.5 L492.9,186.8" stroke-width="1.8"/>
<path d="M495.2,174.0 L494.3,178.5 L493.8,181.8 L495.2,185.7" stroke-width="1.6"/>
<path d="M493.4,190.1 L490.7,187.9 L487.1,186.0 L484.4,185.1 L486.7,181.8" stroke-width="1.5"/>
<path d="M493.4,194.0 L490.7,191.8 L488.0,189.3 L486.2,187.9" stroke-width="1.3"/>
<path d="M492.5,197.9 L490.3,195.6 L488.5,194.5" stroke-width="1.3"/>
<path d="M493.4,200.9 L490.3,199.3 L487.1,197.9 L484.9,197.3" stroke-width="1.4"/>
<path d="M496.1,187.3 L495.2,183.5 L493.8,181.2 L495.2,178.5" stroke-width="1.4"/>
<path d="M501.0,191.2 L499.2,195.1 L497.0,198.4" stroke-width="1.3"/>
<path d="M497.0,206.2 L497.4,210.0 L494.3,210.8 L489.8,211.7" stroke-width="1.5"/>
<path d="M489.8,212.5 L494.3,212.3 L497.9,212.8" stroke-width="1.4"/>
<path d="M491.6,218.4 L487.1,217.0" stroke-width="1.4"/>
<path d="M490.7,222.2 L486.7,221.9" stroke-width="1.4"/>
<path d="M492.9,223.3 L490.3,225.9 L486.2,226.3" stroke-width="1.3"/>
<path d="M447.7,269.9 L448.1,265.5 L449.4,261.6 L450.8,258.3 L452.6,255.5 L454.4,252.9 L456.6,250.7 L460.7,248.1" stroke-width="1.4"/>
<path d="M460.2,247.2 L461.6,245.5" stroke-width="1.4"/>
<path d="M448.6,279.3 L451.2,287.1 L453.5,292.6 L455.3,295.4 L454.8,299.3 L456.8,304.8 L458.9,309.8 L459.9,313.7" stroke-width="1.5"/>
<path d="M453.5,292.1 L453.9,295.9 L454.8,298.2" stroke-width="1.2"/>
<path d="M434.6,300.4 L435.5,303.7 L437.8,300.9 L438.2,303.1 L436.4,305.9" stroke-width="1.7"/>
<path d="M439.6,312.0 L441.4,312.0 L441.8,315.9 L440.5,316.4" stroke-width="1.5"/>
<path d="M444.5,323.1 L447.7,324.8 L449.4,328.1 L450.3,332.0 L453.0,332.0" stroke-width="1.5"/>
<path d="M458.0,329.7 L456.2,332.5 L453.5,335.0 L450.3,336.7 L447.2,337.4 L444.1,338.5" stroke-width="1.5"/>
<path d="M411.8,281.5 L414.5,282.3 L418.1,281.3 L420.7,279.1" stroke-width="1.3"/>
<path d="M394.7,274.7 L399.2,274.0 L403.7,274.1" stroke-width="1.2"/>
<path d="M387.6,274.9 L388.0,271.0 L389.4,273.2 L390.3,275.1" stroke-width="1.6"/>
<path d="M375.9,275.4 L380.4,275.4 L384.9,275.8 L387.6,275.4" stroke-width="1.0"/>
<path d="M372.8,277.7 L375.5,278.8 L376.3,281.0 L374.1,282.6 L375.9,285.1 L378.6,287.6 L377.7,289.1 L375.7,289.3" stroke-width="1.6"/>
<path d="M366.5,274.9 L369.6,274.3 L372.3,276.0 L369.6,277.7 L366.9,276.9 L366.5,274.9" stroke-width="1.2"/>
<path d="M371.0,283.8 L370.1,286.9 L367.8,288.2" stroke-width="1.4"/>
<path d="M364.2,288.2 L360.7,287.6 L358.4,285.4 L357.1,283.2 L353.5,281.0 L351.7,282.4" stroke-width="1.4"/>
<path d="M327.9,285.4 L326.6,281.8 L325.7,284.3 L324.8,288.2" stroke-width="1.4"/>
<path d="M316.7,293.7 L313.1,295.9 L311.3,293.7 L312.2,296.5 L309.1,298.7 L307.3,302.0" stroke-width="1.3"/>
<path d="M305.9,303.1 L304.6,308.1 L304.1,313.7 L305.5,318.7 L306.1,322.0" stroke-width="1.4"/>
<path d="M64.7,90.4 L66.9,90.1" stroke-width="1.4"/>
<path d="M65.3,93.1 L66.5,95.9" stroke-width="1.4"/>
<path d="M65.6,98.1 L69.2,98.4 L71.9,99.0" stroke-width="1.5"/>
<path d="M63.3,158.0 L64.7,159.1" stroke-width="1.3"/>
<path d="M434.2,138.0 L436.4,139.1 L437.8,141.3 L434.6,141.3" stroke-width="1.1"/>
<path d="M434.6,148.3 L436.0,149.6" stroke-width="1.3"/>
</g>
<defs>
<clipPath id="clipVT"><path d="M519.9,111.9 L519.6,116.4 L519.4,120.8 L519.4,125.3 L520.6,127.5 L520.8,131.9 L520.7,136.9 L527.8,137.1 L527.9,133.0 L528.6,128.6 L530.2,125.3 L531.5,120.8 L534.7,118.4 L536.0,116.4 L536.4,111.9Z"/></clipPath>
<clipPath id="clipNH"><path d="M527.8,137.1 L527.9,133.0 L528.6,128.6 L530.2,125.3 L531.5,120.8 L534.7,118.4 L536.0,116.4 L536.4,111.9 L537.3,109.5 L540.2,108.6 L541.2,127.8 L541.4,130.3 L543.6,133.4 L542.5,135.6 L539.1,136.9 L538.2,137.5Z"/></clipPath>
</defs>
<g font-size="20.8" font-weight="bold" fill="#1a1a1a" text-anchor="middle">
<text x="99.1" y="30.2">Average</text>
<text x="149.4" y="30.2">$</text>
<text x="180.2" y="30.2">per</text>
<text x="224.0" y="30.2">Year</text>
<text x="277.7" y="30.2">spent</text>
<text x="320.2" y="30.2">on</text>
<text x="364.6" y="30.2">Flood</text>
<text x="435.9" y="30.2">Damage</text>
<text x="491.9" y="30.2">by</text>
<text x="532.7" y="30.2">State</text>
</g>
<rect x="8.8" y="292.2" width="211.6" height="178.4" fill="#fff" stroke="#222" stroke-width="1.4"/>
<g stroke="#1c1c1c" stroke-linejoin="round">
<path d="M106.7,301.7 L108.5,302.4 L110.0,303.5 L111.9,303.8 L113.3,305.0 L115.1,305.3 L117.0,305.2 L119.1,304.8 L121.1,305.7 L123.0,306.8 L125.0,307.8 L127.0,308.4 L128.9,309.4 L130.5,308.5 L132.3,308.9 L134.0,308.6 L136.0,308.0 L138.0,308.6 L140.0,308.8 L142.1,308.5 L144.1,308.9 L146.0,309.8 L147.7,310.0 L149.3,310.8 L151.1,310.6 L153.7,310.5 L156.0,311.5 L157.8,311.4 L159.4,312.2 L161.1,312.3 L162.5,313.7 L164.5,313.8 L167.3,315.2 L167.3,391.0 L165.3,391.5 L163.3,392.2 L160.0,392.8 L157.0,392.0 L154.2,393.5 L152.5,392.6 L151.0,391.5 L149.5,390.0 L148.1,391.5 L148.0,393.5 L146.4,392.1 L146.0,390.0 L144.6,391.2 L144.0,393.0 L143.0,390.8 L142.5,388.5 L141.9,390.3 L140.5,391.5 L139.4,389.1 L139.5,386.5 L138.0,384.5 L138.6,386.5 L138.2,388.6 L139.0,390.6 L138.0,392.2 L136.3,393.2 L133.8,395.0 L131.2,396.8 L129.3,397.8 L127.5,399.0 L125.9,399.7 L124.6,400.8 L124.2,400.0 L124.4,398.2 L125.0,396.5 L125.6,394.6 L126.0,392.7 L126.7,390.5 L128.5,389.0 L129.3,386.8 L131.2,385.4 L132.6,382.4 L131.0,383.5 L129.0,383.8 L127.1,385.2 L125.5,387.0 L124.3,388.3 L123.2,389.6 L121.8,390.6 L120.8,392.0 L120.0,393.6 L119.0,395.0 L118.5,396.8 L117.0,398.1 L116.6,400.0 L115.7,401.9 L115.3,404.0 L115.3,406.2 L114.5,408.2 L112.9,409.8 L111.5,411.5 L110.3,412.9 L109.2,414.4 L107.6,415.6 L107.0,417.5 L105.6,418.9 L104.8,420.7 L103.6,422.3 L102.0,423.5 L100.1,424.1 L99.0,425.8 L98.2,427.5 L96.5,428.3 L95.3,429.7 L94.0,430.9 L92.3,431.5 L91.0,432.8 L89.6,434.2 L87.6,434.7 L85.5,434.2 L84.6,432.6 L83.8,430.9 L85.3,429.1 L87.5,428.5 L89.6,427.4 L91.4,425.8 L93.2,424.6 L94.5,422.8 L96.2,421.2 L97.8,419.4 L99.5,418.0 L100.3,416.0 L101.0,414.4 L102.2,413.1 L103.2,410.5 L103.5,408.0 L104.3,406.3 L104.5,404.5 L104.4,402.7 L104.1,401.0 L101.5,403.0 L99.0,404.2 L97.4,403.5 L95.8,403.0 L92.7,402.3 L90.9,402.9 L89.0,403.4 L86.3,403.8 L86.5,401.3 L85.6,398.9 L85.7,397.1 L84.5,395.6 L84.0,394.0 L82.5,391.0 L81.1,392.1 L80.0,393.5 L78.6,392.3 L78.6,390.4 L77.5,389.0 L77.0,387.2 L76.0,385.5 L74.5,384.1 L72.5,384.0 L71.9,381.8 L70.5,380.0 L71.0,378.2 L72.0,376.6 L73.0,375.0 L74.1,373.7 L74.1,371.7 L75.6,370.6 L77.2,368.9 L78.9,367.2 L80.1,365.7 L81.5,364.5 L83.3,363.9 L85.3,362.2 L87.8,361.7 L89.2,360.2 L90.0,358.3 L88.4,356.7 L87.8,354.6 L86.0,354.4 L84.5,353.5 L82.8,353.5 L81.1,353.2 L78.9,353.3 L77.0,354.5 L75.2,355.4 L73.3,355.0 L71.4,355.2 L69.5,355.2 L66.7,354.6 L68.4,354.0 L70.0,353.2 L67.5,351.5 L65.6,350.6 L64.4,349.2 L62.8,348.4 L61.1,347.9 L63.5,346.0 L66.7,345.0 L68.6,344.5 L70.0,343.0 L71.5,342.0 L73.3,341.7 L75.1,341.1 L77.0,340.8 L79.0,340.5 L81.1,340.6 L82.8,341.7 L84.7,342.3 L86.7,342.1 L90.0,342.8 L92.2,340.6 L89.9,340.5 L87.8,339.4 L85.8,338.7 L84.4,337.2 L82.7,336.4 L81.5,335.0 L79.9,334.2 L78.9,332.8 L77.2,331.7 L75.5,330.5 L73.9,329.3 L72.2,328.3 L70.2,327.5 L68.2,326.7 L66.7,325.0 L67.8,323.7 L69.6,322.9 L71.4,322.2 L73.3,321.7 L74.8,320.7 L76.2,319.6 L78.0,318.9 L78.9,317.2 L80.5,315.0 L82.2,312.8 L85.0,311.6 L87.8,311.0 L89.5,310.3 L91.0,309.2 L92.7,308.2 L94.4,307.2 L96.5,306.4 L98.5,305.2 L100.5,304.5 L102.2,303.4 L104.2,301.9Z" fill="#a9a9a9" stroke-width="1.25"/>
<path d="M115.0,409.0 L116.2,407.2 L117.5,405.5 L120.5,404.8 L122.0,405.5 L123.5,406.0 L124.4,409.0 L123.3,410.6 L123.0,412.5 L122.0,414.3 L121.0,416.0 L119.7,417.7 L118.5,419.5 L117.2,420.7 L116.0,422.0 L114.3,420.0 L114.1,418.0 L114.5,416.0 L114.4,414.0 L114.3,412.0Z" fill="#555" stroke-width="1.1"/>
<path d="M63.3,392.0 L64.6,391.0 L66.0,390.0 L68.0,390.3 L70.0,390.3 L72.2,392.5 L70.5,393.4 L69.0,394.5 L67.0,394.8 L65.0,394.4Z" fill="#a9a9a9" stroke-width="1.1"/>
<path d="M46.7,364.0 L48.3,363.2 L50.0,362.8 L51.9,363.8 L54.0,364.5 L55.6,365.2 L57.2,365.8 L58.9,366.0 L58.0,368.5 L56.1,369.3 L54.0,369.4 L51.9,368.4 L50.0,367.0 L47.0,366.5Z" fill="#a9a9a9" stroke-width="1.1"/>
<path d="M41.0,389.0 L43.0,389.3 L44.4,391.0 L42.5,391.2Z" fill="#555" stroke-width="1.1"/>
<path d="M52.2,417.3 L53.6,416.6 L54.0,418.0Z" fill="#555" stroke-width="1.1"/>
<path d="M54.6,420.2 L55.9,421.0 L54.6,421.6Z" fill="#555" stroke-width="1.1"/>
<path d="M106.0,425.0 L108.0,424.5 L109.0,426.0 L107.0,427.0Z" fill="#555" stroke-width="1.1"/>
<path d="M109.5,427.5 L111.0,427.0 L111.5,428.6 L110.0,429.0Z" fill="#555" stroke-width="1.1"/>
<path d="M92.0,431.5 L94.5,431.0 L95.5,433.5 L93.5,435.0 L91.5,433.5Z" fill="#555" stroke-width="1.1"/>
<path d="M167.3,391.0 L169.1,391.5 L171.0,391.2 L173.0,391.6 L175.0,391.7 L175.6,393.5 L176.3,395.2 L177.5,396.7 L178.9,397.5 L179.9,398.9 L181.0,400.1 L182.5,400.8 L183.8,399.3 L184.5,397.5 L186.7,395.8 L188.3,395.9 L190.0,395.8 L191.3,397.0 L192.0,398.5 L193.2,400.0 L194.2,401.7 L194.8,403.6 L196.3,405.0 L197.6,406.4 L198.3,408.3 L199.3,409.6 L199.6,411.3 L200.8,412.5 L201.7,413.9 L202.7,415.2 L203.3,416.7 L204.3,418.3 L205.0,420.0 L205.5,421.8 L206.7,423.3 L208.8,425.5 L210.8,427.5 L210.5,430.5 L210.0,433.3 L208.5,435.2 L206.7,436.7 L205.1,437.0 L203.5,437.0 L201.7,436.9 L200.0,436.7 L197.8,435.2 L195.8,433.3 L195.2,431.6 L194.4,430.0 L194.1,428.3 L193.3,426.7 L192.1,424.6 L191.0,422.5 L189.7,421.3 L189.3,419.7 L188.3,418.3 L186.9,416.5 L186.3,414.2 L184.9,412.3 L184.2,410.0 L182.5,407.5 L180.8,405.0 L178.8,402.8 L176.7,400.8 L175.3,400.0 L174.2,398.7 L173.1,397.5 L171.7,396.7 L169.5,395.3 L167.5,394.2 L167.2,392.6Z" fill="#3c3c3c" stroke-width="1.3"/>
</g>
<g stroke="#1c1c1c" fill="none" stroke-linejoin="round" stroke-linecap="round">
<path d="M85.2,433.2 L82.5,434.2 L80.5,434.8 L78.8,436.1 L76.6,436.4 L75.3,438.0 L73.5,438.9 L72.3,440.1 L70.9,441.1 L69.3,441.8 L68.0,442.9 L66.8,444.3 L65.1,444.9 L63.8,446.3 L62.0,446.9 L60.9,448.1 L59.4,448.7 L57.8,449.3 L56.5,450.5 L55.3,451.6 L53.7,451.9 L51.2,453.3 L49.0,454.4" stroke-width="2.6"/>
<path d="M46.5,455.7 L45.0,456.8 L43.2,456.9 L40.8,457.3 L38.5,457.2" stroke-width="2.2"/>
<path d="M35.5,458.3 L32.8,459.1 L31.3,459.5 L29.8,460.1 L27.0,460.7 L25.5,460.8 L24.0,461.3 L21.3,461.5 L19.6,462.4 L18.5,463.1" stroke-width="2.4"/>
<path d="M139.0,386.0 L140.0,388.0 L141.0,390.0 L142.1,388.3 L143.0,386.5 L143.3,388.2 L143.9,389.7 L145.0,391.0 L146.2,389.2 L146.5,387.0 L147.2,388.4 L147.0,390.2 L148.0,391.5" stroke-width="1.5"/>
<path d="M138.5,392.0 L139.7,393.0 L141.0,394.0 L142.5,394.0 L144.0,393.5 L146.0,395.0" stroke-width="1.5"/>
<path d="M149.0,389.0 L150.2,390.0 L150.6,391.7 L152.0,392.5 L153.6,392.7 L155.0,391.8" stroke-width="1.2"/>
<path d="M130.0,392.0 L131.2,390.6 L132.0,389.0 L133.4,389.9 L134.0,391.5 L134.9,389.8 L135.5,388.0" stroke-width="1.1"/>
<path d="M124.5,402.0 L126.3,400.9 L128.0,399.6 L129.5,398.6 L131.0,397.8 L132.4,396.8 L133.5,395.5" stroke-width="1.4"/>
<path d="M116.0,410.0 L117.0,408.5 L118.5,407.5 L121.0,409.0 L123.0,408.0" stroke-width="1.4"/>
<path d="M115.0,418.0 L116.0,416.5 L117.0,415.0 L119.5,416.5 L118.1,418.3 L117.5,420.5" stroke-width="1.4"/>
<path d="M119.0,413.0 L121.5,411.5" stroke-width="1.3"/>
<path d="M167.5,391.5 L169.2,392.2 L171.0,392.5 L172.8,393.0 L174.0,394.5 L175.5,395.8 L176.5,397.5" stroke-width="1.4"/>
<path d="M84.0,394.0 L85.0,395.3 L85.0,397.0 L84.5,399.5" stroke-width="1.2"/>
<path d="M103.0,402.0 L103.9,400.7 L105.0,399.5 L106.5,401.5" stroke-width="1.2"/>
<path d="M88.0,340.5 L90.5,341.8 L91.5,340.0" stroke-width="1.2"/>
</g>
<g stroke="#9a9a9a" fill="none" stroke-width="0.7" stroke-linecap="round">
<path d="M186.5,398.5 L189.0,403.5 L191.5,408.5"/>
<path d="M193.0,404.0 L195.5,409.0"/>
<path d="M194.5,413.0 L197.0,418.5 L199.0,423.0"/>
<path d="M199.0,412.0 L201.5,417.0 L203.5,421.0"/>
<path d="M201.0,426.0 L203.0,430.5 L205.0,433.5"/>
<path d="M196.5,426.0 L198.5,430.5"/>
<path d="M205.5,425.0 L207.5,429.5"/>
<path d="M181.0,401.5 L183.5,405.0"/>
<path d="M189.5,414.5 L191.5,418.5"/>
</g>
<rect x="503" y="251.7" width="112.1" height="76.1" fill="#fff" stroke="#222" stroke-width="1.4"/>
<g stroke="#2a2a2a" stroke-width="1.1" stroke-linejoin="round">
<path d="M509.3,266.3 L510.3,263.5 L512.7,262.5 L512.1,264.8 L510.3,266.7Z" fill="#333"/>
<path d="M518.1,261.2 L519.2,259.3 L522.4,258.2 L526.1,258.8 L527.2,261.6 L526.1,264.1 L523.3,265.0 L520.0,263.9Z" fill="#f0f0f0"/>
<path d="M546.0,270.7 L549.3,270.1 L551.6,268.0 L554.0,271.1 L556.4,272.9 L557.7,275.8 L554.9,276.5 L552.1,275.6 L549.3,275.8 L546.9,272.9Z" fill="#e6e6e6"/>
<path d="M564.2,279.6 L565.1,277.3 L569.8,277.7 L572.6,278.2 L575.2,278.4 L572.6,280.5 L567.9,279.9Z" fill="#dcdcdc"/>
<path d="M568.7,283.7 L570.7,282.8 L573.1,284.3 L572.6,286.2 L570.2,286.5Z" fill="#e6e6e6"/>
<path d="M575.6,282.4 L577.2,280.9 L579.7,283.3 L582.8,282.4 L586.5,284.7 L588.8,286.2 L586.5,288.4 L581.0,289.4 L579.7,285.6 L576.9,285.2 L575.6,283.9Z" fill="#e6e6e6"/>
<path d="M575.4,290.0 L577.2,289.0 L578.5,290.3 L576.9,290.9Z" fill="#333"/>
<path d="M590.6,295.2 L593.4,296.6 L598.6,298.8 L605.1,302.8 L607.0,305.4 L610.5,309.4 L607.0,313.0 L601.4,314.9 L596.8,318.3 L594.4,320.8 L590.3,317.7 L590.3,311.7 L587.5,305.4 L590.6,301.3 L590.3,297.5Z" fill="#e6e6e6"/>
</g>
<rect x="506.5" y="197.5" width="17.5" height="9.5" fill="#b4b4b4" stroke="#333" stroke-width="0.9"/>
<g stroke="#8c8c8c" stroke-width="0.5" fill="none">
<path d="M520,176 L513,170"/>
<path d="M511.5,184.9 L506.8,183.7" stroke="#333" stroke-width="0.9"/>
<path d="M541,158 L537,152"/>
</g>
<g font-size="9.3" font-weight="bold" text-anchor="middle">
<text x="99.0" y="87.6" fill="#1a1a1a">WA</text>
<text x="94.7" y="127.6" fill="#fff">OR</text>
<text x="152.5" y="131.1" fill="#1a1a1a">ID</text>
<text x="200.7" y="92.1" fill="#1a1a1a">MT</text>
<text x="212.5" y="139.7" fill="#1a1a1a">WY</text>
<text x="277.5" y="86.6" fill="#fff">ND</text>
<text x="280" y="119.7" fill="#fff">SD</text>
<text x="283.3" y="154.1" fill="#1a1a1a">NE</text>
<text x="130.7" y="179.8" fill="#1a1a1a">NV</text>
<text x="176.5" y="180.2" fill="#1a1a1a">UT</text>
<text x="231.5" y="180.2" fill="#fff">CO</text>
<text x="295.4" y="188.1" fill="#fff">KS</text>
<text x="100.4" y="203.1" fill="#fff">CA</text>
<text x="175.0" y="228.1" fill="#1a1a1a">AZ</text>
<text x="230.6" y="233.8" fill="#1a1a1a">NM</text>
<text x="304.1" y="220.4" fill="#fff">OK</text>
<text x="329.3" y="101.2" fill="#fff">MN</text>
<text x="377.2" y="121.1" fill="#1a1a1a">WI</text>
<text x="420" y="136.2" fill="#1a1a1a">MI</text>
<text x="338.2" y="152.1" fill="#fff">IA</text>
<text x="378.2" y="169.9" fill="#fff">IL</text>
<text x="406.0" y="169.0" fill="#fff">IN</text>
<text x="437.5" y="167.7" fill="#fff">OH</text>
<text x="477.0" y="161.1" fill="#fff">PA</text>
<text x="502.5" y="140.2" fill="#fff">NY</text>
<text x="558" y="108.6" fill="#1a1a1a">ME</text>
<text x="528.3" y="122.3" fill="#1a1a1a" clip-path="url(#clipVT)">VT</text>
<text x="536.6" y="134.4" fill="#1a1a1a" clip-path="url(#clipNH)">NH</text>
<text x="530.3" y="144.6" fill="#fff">MA</text>
<text x="528.8" y="153.1" fill="#fff">CT</text>
<text x="546.9" y="165.5" fill="#1a1a1a">RI</text>
<text x="527.1" y="181.8" fill="#1a1a1a">NJ</text>
<text x="516.7" y="190.2" fill="#1a1a1a">DE</text>
<text x="496.0" y="176.7" fill="#fff">MD</text>
<text x="455.5" y="186.3" fill="#fff">WV</text>
<text x="472.5" y="198.7" fill="#fff">VA</text>
<text x="418.8" y="199.0" fill="#fff">KY</text>
<text x="350" y="191.4" fill="#fff">MO</text>
<text x="402.5" y="216.6" fill="#1a1a1a">TN</text>
<text x="471.8" y="220.0" fill="#fff">NC</text>
<text x="350" y="228.1" fill="#fff">AR</text>
<text x="453.5" y="240.5" fill="#1a1a1a">SC</text>
<text x="283.5" y="266.2" fill="#fff">TX</text>
<text x="375" y="250.1" fill="#fff">MS</text>
<text x="400" y="249.7" fill="#1a1a1a">AL</text>
<text x="431.0" y="252.2" fill="#1a1a1a">GA</text>
<text x="349.0" y="268.5" fill="#fff">LA</text>
<text x="448.5" y="304.1" fill="#1a1a1a">FL</text>
<text x="128.6" y="351.4" fill="#333">AK</text>
<text x="597.8" y="310.9" fill="#1a1a1a">HI</text>
<text x="515.3" y="205.4" fill="#222">DC</text>
</g>
<rect x="224" y="347.7" width="231.7" height="106.5" fill="#fff" stroke="#222" stroke-width="1.4"/>
<g font-weight="bold" fill="#1a1a1a" font-size="11.6">
<text x="337.5" y="366.6" text-anchor="middle" textLength="204.4" lengthAdjust="spacingAndGlyphs">Average per Year spent on Flood Damage</text>
<text x="337.4" y="379.5" text-anchor="middle" textLength="83.2" lengthAdjust="spacingAndGlyphs">by State (Millions)</text>
</g>
<g font-weight="bold" fill="#1a1a1a" font-size="11">
<rect x="293.4" y="389.0" width="10.4" height="8.9" fill="#474747" stroke="#222" stroke-width="0.9"/>
<text x="309.0" y="397.1" textLength="24.0" lengthAdjust="spacingAndGlyphs">197.8</text>
<text x="340.7" y="397.1" textLength="7.6" lengthAdjust="spacingAndGlyphs">to</text>
<text x="351.6" y="397.1" textLength="23.6" lengthAdjust="spacingAndGlyphs">682.3</text>
<rect x="293.4" y="402.3" width="10.4" height="8.9" fill="#6d6d6d" stroke="#222" stroke-width="0.9"/>
<text x="313.5" y="410.4" textLength="23.5" lengthAdjust="spacingAndGlyphs">85.73</text>
<text x="340.7" y="410.4" textLength="7.6" lengthAdjust="spacingAndGlyphs">to</text>
<text x="351.6" y="410.4" textLength="23.6" lengthAdjust="spacingAndGlyphs">156.8</text>
<rect x="293.4" y="415.5" width="10.4" height="8.9" fill="#a9a9a9" stroke="#222" stroke-width="0.9"/>
<text x="313.5" y="423.6" textLength="17.8" lengthAdjust="spacingAndGlyphs">27.3</text>
<text x="340.7" y="423.6" textLength="7.6" lengthAdjust="spacingAndGlyphs">to</text>
<text x="357.4" y="423.6" textLength="23.4" lengthAdjust="spacingAndGlyphs">65.06</text>
<rect x="293.4" y="428.8" width="10.4" height="8.9" fill="#e6e6e6" stroke="#222" stroke-width="0.9"/>
<text x="319.1" y="436.9" textLength="17.9" lengthAdjust="spacingAndGlyphs">0.47</text>
<text x="340.7" y="436.9" textLength="7.6" lengthAdjust="spacingAndGlyphs">to</text>
<text x="357.4" y="436.9" textLength="23.4" lengthAdjust="spacingAndGlyphs">18.38</text>
</g>
<g font-weight="bold" font-style="italic" fill="#1a1a1a">
<text x="471.4" y="438.6" font-size="10.6" textLength="149.5" lengthAdjust="spacingAndGlyphs">ITS Mapping and Analysis Center</text>
<text x="509.4" y="450.9" font-size="10.6" textLength="72.6" lengthAdjust="spacingAndGlyphs">Washington, DC</text>
<text x="235.7" y="468.3" font-size="8.6" textLength="367.2" lengthAdjust="spacingAndGlyphs">Source: Center for Science and Technology Policy Research, Data based on most current available</text>
</g>
</svg>
</body></html>
